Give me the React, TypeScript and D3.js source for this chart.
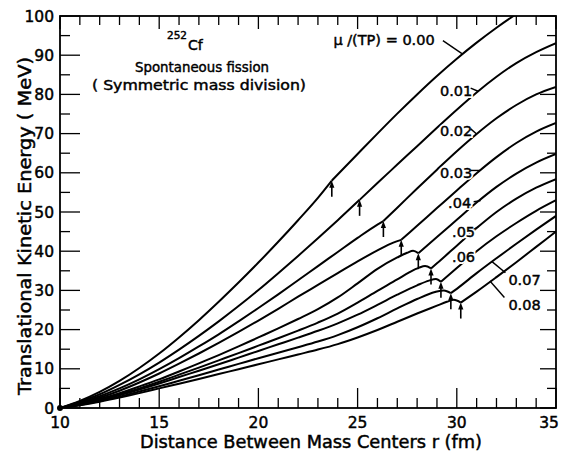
import React from 'react';
import * as d3 from 'd3';

const W = 563;
const H = 453;

// Axis ticks
const xMajorTicks = [10, 15, 20, 25, 30, 35];
const yMajorTicks = [0, 10, 20, 30, 40, 50, 60, 70, 80, 90, 100];

// Curves: r (fm) -> TKE (MeV). "pre" runs up to the scission point (arrow), "post" continues from it.
const mu000Pre: [number, number][] = [[10, 0], [11, 1.8], [12, 4.1], [13, 6.9], [14, 10.2], [15, 13.9], [16, 18.0], [17, 22.4], [18, 27.1], [19, 32.0], [20, 37.1], [21, 42.4], [22, 47.9], [23, 53.6], [23.7, 58.0]];
const mu000Post: [number, number][] = [[23.7, 58.0], [25, 64.8], [26, 70.0], [27, 75.1], [28, 80.0], [29, 84.7], [30, 89.1], [31, 93.2], [32, 97.0], [33, 100.5], [34, 103.7]];

const mu001Pre: [number, number][] = [[10, 0], [11, 1.6], [12, 3.5], [13, 5.9], [14, 8.6], [15, 11.6], [16, 14.9], [17, 18.4], [18, 22.1], [19, 26.0], [20, 30.1], [21, 34.4], [22, 38.8], [23, 43.3], [24, 47.9], [25.1, 53.1]];
const mu001Post: [number, number][] = [[25.1, 53.1], [26, 57.4], [27, 62.1], [28, 66.8], [29, 71.5], [30, 76.1], [31, 80.5], [32, 84.5], [33, 88.0], [34, 90.8], [35, 93.1]];

const mu002Pre: [number, number][] = [[10, 0], [11, 1.3], [12, 3.0], [13, 5.0], [14, 7.3], [15, 9.9], [16, 12.7], [17, 15.7], [18, 18.8], [19, 22.1], [20, 25.5], [21, 29.0], [22, 32.6], [23, 36.2], [24, 39.8], [25, 43.4], [26, 46.8], [26.3, 47.7]];
const mu002Post: [number, number][] = [[26.3, 47.7], [27, 51.1], [28, 56.0], [29, 60.8], [30, 65.5], [31, 69.9], [32, 73.9], [33, 77.3], [34, 80.0], [35, 81.9]];

const mu003Pre: [number, number][] = [[10, 0], [11, 1.1], [12, 2.6], [13, 4.4], [14, 6.5], [15, 8.8], [16, 11.3], [17, 13.9], [18, 16.6], [19, 19.4], [20, 22.3], [21, 25.3], [22, 28.4], [23, 31.4], [24, 34.4], [25, 37.4], [26, 40.2], [26.8, 42.2], [27.2, 42.9]];
const mu003Post: [number, number][] = [[27.2, 42.9], [28, 46.5], [29, 51.0], [30, 55.5], [31, 59.9], [32, 64.0], [33, 67.6], [34, 70.5], [35, 72.7]];

const mu004Pre: [number, number][] = [[10, 0], [11, 1.0], [12, 2.3], [13, 3.8], [14, 5.5], [15, 7.3], [16, 9.3], [17, 11.4], [18, 13.5], [19, 15.7], [20, 18.0], [21, 20.3], [22, 22.7], [23, 25.2], [24, 28.2], [25, 31.8], [26, 35.5], [27, 38.4], [27.5, 39.6], [27.8, 40.1], [28.06, 39.5]];
const mu004Post: [number, number][] = [[28.06, 39.5], [29, 43.6], [30, 48.0], [31, 52.4], [32, 56.4], [33, 59.8], [34, 62.6], [35, 64.8]];

const mu005Pre: [number, number][] = [[10, 0], [11, 0.9], [12, 2.1], [13, 3.5], [14, 5.0], [15, 6.7], [16, 8.5], [17, 10.3], [18, 12.15], [19, 14.0], [20, 15.9], [21, 17.8], [22, 19.75], [23, 21.8], [24, 24.1], [25, 26.9], [26, 29.9], [27, 32.8], [27.6, 34.6], [28.1, 35.8], [28.4, 36.2], [28.7, 35.6]];
const mu005Post: [number, number][] = [[28.7, 35.6], [29, 36.9], [30, 41.4], [31, 45.9], [32, 50.0], [33, 53.4], [34, 56.2], [35, 58.4]];

const mu006Pre: [number, number][] = [[10, 0], [11, 0.85], [12, 1.95], [13, 3.25], [14, 4.7], [15, 6.25], [16, 7.9], [17, 9.5], [18, 11.15], [19, 12.85], [20, 14.55], [21, 16.25], [22, 17.95], [23, 19.7], [24, 21.6], [25, 23.8], [26, 26.3], [27, 28.9], [28, 31.3], [28.6, 32.5], [28.95, 32.9], [29.2, 32.2]];
const mu006Post: [number, number][] = [[29.2, 32.2], [30, 35.7], [31, 40.0], [32, 43.8], [33, 47.2], [34, 50.3], [35, 53.0]];

const mu007Pre: [number, number][] = [[10, 0], [11, 0.75], [12, 1.75], [13, 2.9], [14, 4.2], [15, 5.55], [16, 6.95], [17, 8.35], [18, 9.8], [19, 11.25], [20, 12.7], [21, 14.1], [22, 15.5], [23, 16.95], [24, 18.6], [25, 20.6], [26, 22.9], [27, 25.4], [28, 27.8], [28.9, 29.6], [29.35, 30.0], [29.7, 29.3]];
const mu007Post: [number, number][] = [[29.7, 29.3], [30, 30.4], [31, 34.4], [32, 38.2], [33, 41.9], [34, 45.5], [35, 49.0]];

const mu008Pre: [number, number][] = [[10, 0], [11, 0.7], [12, 1.6], [13, 2.65], [14, 3.8], [15, 5.0], [16, 6.2], [17, 7.4], [18, 8.65], [19, 9.9], [20, 11.15], [21, 12.4], [22, 13.65], [23, 14.9], [24, 16.3], [25, 18.0], [26, 19.9], [27, 22.0], [28, 24.1], [29, 26.1], [29.5, 27.1], [29.85, 27.6], [30.2, 26.9]];
const mu008Post: [number, number][] = [[30.2, 26.9], [31, 29.7], [32, 33.4], [33, 37.2], [34, 41.1], [35, 45.0]];

const curves = [
  { pre: mu000Pre, post: mu000Post },
  { pre: mu001Pre, post: mu001Post },
  { pre: mu002Pre, post: mu002Post },
  { pre: mu003Pre, post: mu003Post },
  { pre: mu004Pre, post: mu004Post },
  { pre: mu005Pre, post: mu005Post },
  { pre: mu006Pre, post: mu006Post },
  { pre: mu007Pre, post: mu007Post },
  { pre: mu008Pre, post: mu008Post },
];

// Curve labels: text, anchor (r, MeV) and leader line (r, MeV) -> (r, MeV)
const curveLabels: { text: string; at: [number, number]; leader?: [[number, number], [number, number]] }[] = [
  { text: 'μ /(TP) = 0.00', at: [23.78, 92.5], leader: [[29.3, 93.7], [30.26, 90.4]] },
  { text: '0.01', at: [29.15, 79.7], leader: [[30.7, 81.6], [31.07, 80.8]] },
  { text: '0.02', at: [29.15, 69.5], leader: [[30.7, 71.2], [31.0, 69.9]] },
  { text: '0.03', at: [29.15, 58.8], leader: [[30.7, 60.6], [31.17, 60.6]] },
  { text: '.04', at: [29.56, 51.0], leader: [[30.85, 52.6], [31.2, 52.9]] },
  { text: '.05', at: [29.76, 43.6], leader: [[30.85, 45.6], [31.1, 46.3]] },
  { text: '.06', at: [29.76, 37.2] },
  { text: '0.07', at: [32.6, 31.3], leader: [[32.45, 34.5], [31.76, 37.4]] },
  { text: '0.08', at: [32.6, 24.9], leader: [[32.4, 28.2], [31.67, 32.4]] },
];

const FONT = '"DejaVu Sans", "Open Sans", sans-serif';
const INK = '#000';

export default function App() {
  const left = 60, right = 556, top = 16, bottom = 408;
  const x = d3.scaleLinear().domain([10, 35]).range([left, right]);
  const y = d3.scaleLinear().domain([0, 100]).range([bottom, top]);

  const line = d3
    .line<[number, number]>()
    .x((d) => x(d[0]))
    .y((d) => y(d[1]))
    .curve(d3.curveMonotoneX);

  const xMinor = d3.range(10, 35.001, 1);
  const yMinor = d3.range(0, 100.001, 5);

  const inkText = { fill: INK, stroke: INK, strokeWidth: 0.45 };

  return (
    <svg
      width={W}
      height={H}
      viewBox={`0 0 ${W} ${H}`}
      style={{ position: 'absolute', left: 0, top: 0, background: '#fff' }}
      fontFamily={FONT}
    >
      <defs>
        <clipPath id="plotClip">
          <rect x={left} y={top} width={right - left} height={bottom - top} />
        </clipPath>
      </defs>
      <rect x={0} y={0} width={W} height={H} fill="#fff" />

      {/* frame */}
      <rect x={left} y={top} width={right - left} height={bottom - top} fill="none" stroke={INK} strokeWidth={1.8} />

      {/* x ticks, bottom and top */}
      {xMinor.map((v) => {
        const major = Math.abs(v % 5) < 1e-6;
        return (
          <g key={`xt${v}`} stroke={INK} strokeWidth={1.3}>
            <line x1={x(v)} x2={x(v)} y1={bottom} y2={bottom - (major ? 20 : 10)} />
            <line x1={x(v)} x2={x(v)} y1={top} y2={top + (major ? 13 : 9)} />
          </g>
        );
      })}
      {/* y ticks, left and right */}
      {yMinor.map((v) => {
        const major = Math.abs(v % 10) < 1e-6;
        return (
          <g key={`yt${v}`} stroke={INK} strokeWidth={1.3}>
            <line x1={left} x2={left + (major ? 20 : 10)} y1={y(v)} y2={y(v)} />
            <line x1={right} x2={right - (major ? 16 : 9)} y1={y(v)} y2={y(v)} />
          </g>
        );
      })}

      {/* tick labels */}
      {xMajorTicks.map((v) => (
        <text key={`xl${v}`} x={v === 35 ? 549 : x(v)} y={428} fontSize={15.5} textAnchor="middle" {...inkText}>
          {v}
        </text>
      ))}
      {yMajorTicks.map((v) => (
        <text key={`yl${v}`} x={54} y={y(v)} dy="0.36em" fontSize={15.5} textAnchor="end" {...inkText}>
          {v}
        </text>
      ))}

      {/* axis titles */}
      <text x={311} y={448} fontSize={17} textAnchor="middle" textLength={342} lengthAdjust="spacingAndGlyphs" {...inkText}>
        Distance Between Mass Centers r (fm)
      </text>
      <text
        transform="translate(31,226) rotate(-90)"
        fontSize={17}
        textAnchor="middle"
        textLength={338}
        lengthAdjust="spacingAndGlyphs"
        {...inkText}
      >
        Translational Kinetic Energy ( MeV)
      </text>

      {/* curves */}
      <g clipPath="url(#plotClip)" fill="none" stroke={INK} strokeWidth={2} strokeLinejoin="round">
        {curves.map((c, i) => (
          <g key={`c${i}`}>
            <path d={line(c.pre) ?? ''} />
            <path d={line(c.post) ?? ''} />
          </g>
        ))}
      </g>
      <circle cx={x(10)} cy={y(0)} r={3} fill={INK} />

      {/* scission arrows */}
      {curves.map((c, i) => {
        const s = c.pre[c.pre.length - 1];
        const sx = x(s[0]);
        const sy = y(s[1]);
        return (
          <g key={`a${i}`}>
            <line x1={sx} x2={sx} y1={sy + 16} y2={sy + 4} stroke={INK} strokeWidth={1.6} />
            <path d={`M${sx},${sy} L${sx - 2.6},${sy + 7} L${sx + 2.6},${sy + 7} Z`} fill={INK} />
          </g>
        );
      })}

      {/* curve labels (white halo first, then the ink) */}
      {curveLabels.map((l, i) => (
        <g key={`l${i}`}>
          <text x={x(l.at[0])} y={y(l.at[1])} fontSize={14.5} fill="#fff" stroke="#fff" strokeWidth={4}>
            {l.text}
          </text>
          <text x={x(l.at[0])} y={y(l.at[1])} fontSize={14.5} {...inkText}>
            {l.text}
          </text>
          {l.leader && (
            <line
              x1={x(l.leader[0][0])}
              y1={y(l.leader[0][1])}
              x2={x(l.leader[1][0])}
              y2={y(l.leader[1][1])}
              stroke={INK}
              strokeWidth={1.4}
            />
          )}
        </g>
      ))}

      {/* annotation */}
      <text x={167} y={39} fontSize={10.5} {...inkText}>252</text>
      <text x={188} y={50} fontSize={14} {...inkText}>Cf</text>
      <text x={202} y={72} fontSize={14} textAnchor="middle" textLength={134} lengthAdjust="spacingAndGlyphs" {...inkText}>
        Spontaneous fission
      </text>
      <text x={199} y={90} fontSize={14} textAnchor="middle" textLength={214} lengthAdjust="spacingAndGlyphs" {...inkText}>
        ( Symmetric mass division)
      </text>
    </svg>
  );
}
